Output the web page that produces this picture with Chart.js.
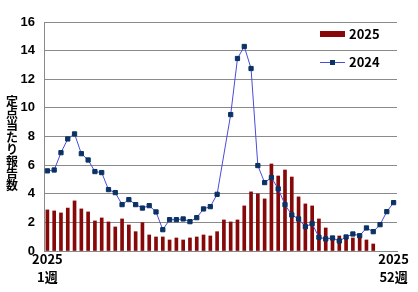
<!DOCTYPE html>
<html lang="ja">
<head>
  <meta charset="UTF-8">
  <title>定点当たり報告数</title>
  <script src="https://cdn.jsdelivr.net/npm/chart.js"></script>
  <style>
    body { margin: 0; background: #fff; }
    .chart-box { width: 418px; height: 292px; }
  </style>
</head>
<body>
<div class="chart-box">
  <canvas id="weeklyChart" width="418" height="292"></canvas>
</div>

<script>
  // week numbers 1..52
  const weeks = Array.from({ length: 52 }, (_, i) => (i + 1) + '週');
  const firstTick = ['2025', '1週'];
  const lastTick = ['2025', '52週'];
  const yTitle = '定点当たり報告数';

  // 2025 bars (data up to week 49)
  const reports2025 = [
    2.87, 2.80, 2.66, 3.00, 3.50, 2.94, 2.73, 2.10, 2.31, 2.03,
    1.68, 2.24, 1.82, 1.35, 1.98, 1.12, 0.98, 0.98, 0.77, 0.91,
    0.77, 0.91, 0.98, 1.12, 1.05, 1.35, 2.17, 2.03, 2.17, 3.15,
    4.13, 3.99, 3.64, 6.08, 5.24, 5.66, 5.17, 3.78, 3.29, 3.15,
    2.24, 1.61, 1.00, 1.05, 1.05, 0.91, 1.05, 0.77, 0.49
  ];

  // 2024 line (week 27 has no marker)
  const reports2024 = [
    5.60, 5.66, 6.87, 7.83, 8.18, 6.80, 6.36, 5.55, 5.48, 4.29,
    4.08, 3.24, 3.59, 3.24, 3.00, 3.17, 2.73, 1.49, 2.19, 2.19,
    2.24, 2.05, 2.33, 2.94, 3.10, 3.96, null, 9.53, 13.45, 14.29,
    12.75, 5.97, 4.78, 5.13, 4.34, 3.24, 2.52, 2.24, 1.70, 1.91,
    0.96, 0.84, 0.91, 0.70, 0.98, 1.19, 1.07, 1.61, 1.35, 1.84,
    2.75, 3.38
  ];

  const barColor = '#860808';
  const lineColor = '#4b4bdc';
  const markColor = '#0a3264';
  const gridColor = '#8a8a8a';
  const narrowFont = "'Liberation Sans Narrow', 'Noto Sans CJK JP', sans-serif";

  // vertical (stacked) axis title + legend inside the plot
  const extras = {
    id: 'extras',
    afterDraw(chart) {
      const ctx = chart.ctx;
      const area = chart.chartArea;
      ctx.save();
      ctx.fillStyle = '#000';
      ctx.textAlign = 'center';
      ctx.textBaseline = 'middle';
      ctx.font = "bold 12px 'Noto Sans CJK JP'";
      [...yTitle].forEach((ch, i) => ctx.fillText(ch, 12, 101 + i * 12));

      const lx = area.right - 77;
      const ly1 = area.top + 12;
      const ly2 = area.top + 40;
      ctx.fillStyle = barColor;
      ctx.fillRect(lx, ly1 - 3, 25, 6);
      ctx.strokeStyle = lineColor;
      ctx.lineWidth = 1;
      ctx.beginPath();
      ctx.moveTo(lx, ly2 + 0.5);
      ctx.lineTo(lx + 25, ly2 + 0.5);
      ctx.stroke();
      ctx.fillStyle = markColor;
      ctx.fillRect(lx + 10, ly2 - 2, 5, 5);

      ctx.fillStyle = '#000';
      ctx.textAlign = 'left';
      ctx.font = 'bold 13px ' + narrowFont;
      ctx.fillText(chart.data.datasets[0].label, lx + 29, ly1);
      ctx.fillText(chart.data.datasets[1].label, lx + 29, ly2);
      ctx.restore();
    }
  };

  const ctx = document.getElementById('weeklyChart').getContext('2d');
  new Chart(ctx, {
    data: {
      labels: weeks,
      datasets: [
        {
          type: 'bar',
          label: '2025',
          data: reports2025,
          backgroundColor: barColor,
          barThickness: 3,
          order: 1
        },
        {
          type: 'line',
          label: '2024',
          data: reports2024,
          borderColor: lineColor,
          borderWidth: 1,
          pointStyle: 'rect',
          pointRadius: 3,
          pointBorderWidth: 1,
          pointBackgroundColor: markColor,
          pointBorderColor: markColor,
          spanGaps: true,
          tension: 0,
          order: 0
        }
      ]
    },
    options: {
      responsive: false,
      animation: false,
      layout: { padding: { left: 0, right: 21, top: 22, bottom: 0 } },
      plugins: {
        legend: { display: false },
        tooltip: { enabled: false }
      },
      scales: {
        x: {
          grid: { display: false, drawTicks: false },
          border: { color: gridColor },
          ticks: {
            autoSkip: false,
            maxRotation: 0,
            padding: -1,
            color: '#000',
            font: { family: narrowFont, size: 13, weight: 'bold', lineHeight: '18px' },
            callback: (v, i) => i === 0 ? firstTick : (i === weeks.length - 1 ? lastTick : '')
          },
          afterFit: s => { s.height = 41; }
        },
        y: {
          min: 0,
          max: 16,
          grid: { color: gridColor, drawTicks: false },
          border: { color: gridColor },
          ticks: {
            stepSize: 2,
            padding: 9,
            color: '#000',
            font: { family: "'Liberation Sans', Arial, sans-serif", size: 13, weight: 'bold' }
          },
          afterFit: s => { s.width = 44; }
        }
      }
    },
    plugins: [extras]
  });
</script>
</body>
</html>
